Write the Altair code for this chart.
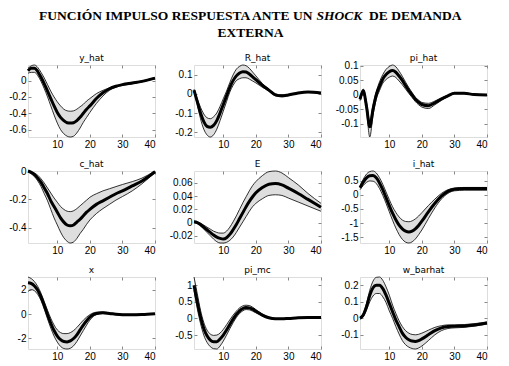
import altair as alt
import pandas as pd

# ---------------- data ----------------
T = [1, 2, 3, 4, 5, 6, 7, 8, 9, 10, 11, 12, 13, 14, 15, 16, 17, 18, 19, 20,
     22, 24, 26, 28, 30, 33, 36, 40]

NAMES = ["y_hat", "R_hat", "pi_hat", "c_hat", "E", "i_hat", "x", "pi_mc", "w_barhat"]

y_hat_mean = [0.12, 0.15, 0.15, 0.11, 0.04, -0.04, -0.13, -0.22, -0.31, -0.39, -0.45, -0.49, -0.515, -0.52,
              -0.515, -0.49, -0.45, -0.40, -0.35, -0.31, -0.22, -0.15, -0.10, -0.07, -0.05, -0.03, -0.01, 0.03]
y_hat_hi = [0.15, 0.18, 0.19, 0.16, 0.10, 0.03, -0.05, -0.13, -0.20, -0.26, -0.31, -0.35, -0.37, -0.375,
            -0.37, -0.35, -0.32, -0.29, -0.25, -0.22, -0.16, -0.12, -0.09, -0.065, -0.045, -0.025, -0.005, 0.035]
y_hat_lo = [0.09, 0.10, 0.10, 0.06, -0.01, -0.10, -0.20, -0.31, -0.42, -0.52, -0.60, -0.65, -0.68, -0.69,
            -0.68, -0.64, -0.58, -0.51, -0.45, -0.39, -0.28, -0.19, -0.12, -0.08, -0.06, -0.04, -0.015, 0.02]

R_hat_mean = [0.02, -0.04, -0.10, -0.145, -0.17, -0.175, -0.165, -0.14, -0.10, -0.055, -0.01, 0.035, 0.07, 0.095,
              0.11, 0.117, 0.115, 0.105, 0.09, 0.075, 0.045, 0.02, -0.005, -0.01, -0.005, 0.005, 0.01, 0.005]
R_hat_hi = [0.025, -0.025, -0.07, -0.105, -0.125, -0.13, -0.12, -0.10, -0.065, -0.025, 0.015, 0.06, 0.10, 0.13,
            0.145, 0.152, 0.148, 0.135, 0.115, 0.095, 0.055, 0.025, 0.0, -0.005, -0.002, 0.007, 0.012, 0.007]
R_hat_lo = [0.015, -0.055, -0.13, -0.185, -0.215, -0.226, -0.215, -0.185, -0.14, -0.09, -0.04, 0.01, 0.045, 0.07,
            0.08, 0.085, 0.085, 0.078, 0.068, 0.058, 0.035, 0.015, -0.01, -0.015, -0.008, 0.003, 0.008, 0.003]

pi_hat_mean = [-0.015, 0.014, -0.04, -0.11, -0.05, 0.0, 0.03, 0.055, 0.07, 0.08, 0.084, 0.078, 0.065, 0.05,
               0.032, 0.015, 0.0, -0.015, -0.025, -0.033, -0.037, -0.027, -0.014, -0.003, 0.006, 0.006, 0.001, 0.0]
pi_hat_hi = [-0.01, 0.02, -0.025, -0.09, -0.035, 0.012, 0.045, 0.07, 0.088, 0.098, 0.103, 0.097, 0.082, 0.064,
             0.044, 0.025, 0.008, -0.008, -0.018, -0.026, -0.029, -0.021, -0.01, -0.001, 0.008, 0.008, 0.002, 0.001]
pi_hat_lo = [-0.02, 0.008, -0.055, -0.145, -0.07, -0.015, 0.015, 0.04, 0.053, 0.061, 0.065, 0.06, 0.048, 0.035,
             0.02, 0.005, -0.009, -0.023, -0.034, -0.042, -0.047, -0.034, -0.019, -0.006, 0.004, 0.004, 0.0, -0.001]

c_hat_mean = [0.0, -0.01, -0.025, -0.05, -0.08, -0.12, -0.16, -0.21, -0.25, -0.29, -0.33, -0.36, -0.38, -0.386,
              -0.38, -0.36, -0.34, -0.315, -0.29, -0.27, -0.235, -0.21, -0.185, -0.16, -0.14, -0.105, -0.07, -0.005]
c_hat_hi = [0.0, -0.005, -0.015, -0.03, -0.055, -0.085, -0.12, -0.155, -0.19, -0.22, -0.25, -0.27, -0.283, -0.286,
            -0.28, -0.265, -0.245, -0.225, -0.205, -0.185, -0.16, -0.14, -0.125, -0.11, -0.095, -0.075, -0.05, 0.0]
c_hat_lo = [0.0, -0.02, -0.04, -0.07, -0.11, -0.16, -0.21, -0.27, -0.33, -0.38, -0.43, -0.47, -0.495, -0.507,
            -0.5, -0.475, -0.44, -0.41, -0.375, -0.345, -0.3, -0.265, -0.235, -0.205, -0.18, -0.14, -0.09, -0.01]

E_mean = [0.001, 0.0, -0.003, -0.007, -0.011, -0.015, -0.019, -0.022, -0.024, -0.025, -0.023, -0.018, -0.011, -0.003,
          0.006, 0.015, 0.024, 0.032, 0.039, 0.045, 0.053, 0.058, 0.059, 0.057, 0.052, 0.044, 0.035, 0.023]
E_hi = [0.002, 0.001, -0.001, -0.004, -0.007, -0.01, -0.013, -0.015, -0.016, -0.016, -0.013, -0.007, 0.001, 0.01,
        0.02, 0.03, 0.039, 0.048, 0.056, 0.062, 0.071, 0.077, 0.078, 0.075, 0.068, 0.057, 0.044, 0.029]
E_lo = [0.0, -0.001, -0.005, -0.01, -0.015, -0.02, -0.025, -0.029, -0.031, -0.031, -0.03, -0.027, -0.022, -0.015,
        -0.007, 0.001, 0.009, 0.017, 0.024, 0.029, 0.036, 0.041, 0.042, 0.041, 0.037, 0.031, 0.025, 0.017]

i_hat_mean = [0.25, 0.45, 0.6, 0.67, 0.68, 0.6, 0.42, 0.18, -0.1, -0.38, -0.65, -0.88, -1.07, -1.2,
              -1.28, -1.31, -1.28, -1.2, -1.08, -0.93, -0.6, -0.3, -0.05, 0.12, 0.2, 0.22, 0.22, 0.22]
i_hat_hi = [0.3, 0.55, 0.73, 0.82, 0.84, 0.77, 0.6, 0.37, 0.1, -0.17, -0.42, -0.62, -0.78, -0.89,
            -0.94, -0.95, -0.92, -0.85, -0.75, -0.63, -0.38, -0.15, 0.05, 0.18, 0.24, 0.26, 0.26, 0.26]
i_hat_lo = [0.18, 0.33, 0.44, 0.49, 0.48, 0.4, 0.22, -0.02, -0.3, -0.6, -0.9, -1.17, -1.4, -1.57,
            -1.67, -1.70, -1.66, -1.56, -1.41, -1.24, -0.84, -0.46, -0.15, 0.05, 0.14, 0.16, 0.16, 0.16]

x_mean = [2.55, 2.5, 2.3, 1.95, 1.4, 0.7, -0.05, -0.75, -1.35, -1.8, -2.1, -2.25, -2.28, -2.2,
          -2.0, -1.7, -1.3, -0.9, -0.55, -0.25, 0.05, 0.1, 0.05, -0.02, -0.05, -0.05, -0.03, 0.03]
x_hi = [3.03, 2.9, 2.65, 2.25, 1.7, 1.0, 0.3, -0.35, -0.9, -1.3, -1.52, -1.6, -1.6, -1.52,
        -1.35, -1.1, -0.8, -0.5, -0.25, -0.05, 0.15, 0.17, 0.1, 0.02, -0.02, -0.03, -0.01, 0.05]
x_lo = [1.85, 2.0, 1.9, 1.6, 1.1, 0.4, -0.4, -1.15, -1.8, -2.3, -2.65, -2.82, -2.86, -2.8,
        -2.6, -2.25, -1.8, -1.35, -0.9, -0.5, -0.05, 0.04, 0.0, -0.06, -0.08, -0.08, -0.05, 0.01]

pi_mc_mean = [1.0, 0.5, 0.05, -0.3, -0.52, -0.65, -0.7, -0.7, -0.62, -0.5, -0.35, -0.18, -0.02, 0.12,
              0.23, 0.3, 0.33, 0.32, 0.28, 0.22, 0.1, 0.02, -0.01, -0.01, 0.0, 0.02, 0.03, 0.03]
pi_mc_hi = [1.25, 0.75, 0.25, -0.12, -0.35, -0.47, -0.51, -0.5, -0.44, -0.33, -0.19, -0.04, 0.1, 0.22,
            0.32, 0.38, 0.4, 0.39, 0.34, 0.27, 0.13, 0.04, 0.0, 0.0, 0.01, 0.03, 0.04, 0.04]
pi_mc_lo = [0.85, 0.3, -0.15, -0.5, -0.72, -0.85, -0.91, -0.92, -0.83, -0.68, -0.5, -0.31, -0.13, 0.03,
            0.15, 0.23, 0.27, 0.26, 0.22, 0.17, 0.07, 0.0, -0.02, -0.02, -0.01, 0.01, 0.02, 0.02]

w_barhat_mean = [0.0, 0.02, 0.07, 0.14, 0.185, 0.2, 0.2, 0.18, 0.14, 0.09, 0.04, -0.01, -0.05, -0.09,
                 -0.115, -0.13, -0.138, -0.14, -0.135, -0.125, -0.1, -0.075, -0.058, -0.05, -0.048, -0.046, -0.04, -0.028]
w_barhat_hi = [0.005, 0.03, 0.09, 0.17, 0.225, 0.248, 0.25, 0.23, 0.19, 0.14, 0.08, 0.03, -0.015, -0.05,
               -0.075, -0.09, -0.098, -0.1, -0.097, -0.09, -0.072, -0.055, -0.045, -0.04, -0.04, -0.038, -0.033, -0.022]
w_barhat_lo = [-0.005, 0.01, 0.05, 0.1, 0.135, 0.15, 0.15, 0.13, 0.095, 0.045, 0.0, -0.05, -0.095, -0.135,
               -0.16, -0.175, -0.183, -0.186, -0.18, -0.168, -0.135, -0.1, -0.075, -0.062, -0.058, -0.055, -0.048, -0.034]

Y_TICKS = {
    "y_hat": [-0.6, -0.4, -0.2, 0],
    "R_hat": [-0.2, -0.1, 0, 0.1],
    "pi_hat": [-0.1, -0.05, 0, 0.05, 0.1],
    "c_hat": [-0.4, -0.2, 0],
    "E": [-0.02, 0, 0.02, 0.04, 0.06],
    "i_hat": [-1.5, -1, -0.5, 0, 0.5],
    "x": [-2, 0, 2],
    "pi_mc": [-0.5, 0, 0.5, 1],
    "w_barhat": [-0.1, 0, 0.1, 0.2],
}
X_TICKS = [10, 20, 30, 40]

SERIES = {
    "y_hat": (y_hat_mean, y_hat_lo, y_hat_hi),
    "R_hat": (R_hat_mean, R_hat_lo, R_hat_hi),
    "pi_hat": (pi_hat_mean, pi_hat_lo, pi_hat_hi),
    "c_hat": (c_hat_mean, c_hat_lo, c_hat_hi),
    "E": (E_mean, E_lo, E_hi),
    "i_hat": (i_hat_mean, i_hat_lo, i_hat_hi),
    "x": (x_mean, x_lo, x_hi),
    "pi_mc": (pi_mc_mean, pi_mc_lo, pi_mc_hi),
    "w_barhat": (w_barhat_mean, w_barhat_lo, w_barhat_hi),
}

TITLE_LINE1_PARTS = ["FUNCIÓN IMPULSO RESPUESTA ANTE UN", "SHOCK", "DE DEMANDA"]
TITLE_LINE2 = ["EXTERNA"]

# ---------------- style ----------------
FILL = "#dedede"
LABEL_FONT = "DejaVu Sans"
SERIF = "Liberation Serif"
W, H = 127, 72


def panel(name, with_title=False):
    mean, lo, hi = SERIES[name]
    df = pd.DataFrame({"t": T, "mean": mean, "lo": lo, "hi": hi})
    xs = alt.Scale(domain=[1, 40], nice=False, zero=False)
    ys = alt.Scale(nice=False, zero=False)
    lab = "'' + datum.value"
    ax_x = alt.Axis(values=X_TICKS, tickSize=3, offset=-3, domain=False, grid=False,
                    labelPadding=2, title=None, labelExpr=lab)
    ax_y = alt.Axis(values=Y_TICKS[name], tickSize=3, offset=-3, domain=False, grid=False,
                    labelPadding=2, title=None, labelExpr=lab)
    ax_x2 = alt.Axis(values=X_TICKS, orient="top", tickSize=3, offset=-3, domain=False,
                     grid=False, labels=False, title=None)
    ax_y2 = alt.Axis(values=Y_TICKS[name], orient="right", tickSize=3, offset=-3, domain=False,
                     grid=False, labels=False, title=None)
    base = alt.Chart(df)
    area = base.mark_area(color=FILL, opacity=1, interpolate="monotone").encode(
        x=alt.X("t:Q", scale=xs, axis=ax_x),
        y=alt.Y("lo:Q", scale=ys, axis=ax_y),
        y2="hi:Q",
    )
    lo_line = base.mark_line(color="black", strokeWidth=0.8, interpolate="monotone").encode(
        x=alt.X("t:Q", axis=None), y=alt.Y("lo:Q", axis=None))
    hi_line = base.mark_line(color="black", strokeWidth=0.8, interpolate="monotone").encode(
        x=alt.X("t:Q", axis=None), y=alt.Y("hi:Q", axis=None))
    mean_line = base.mark_line(color="black", strokeWidth=3, interpolate="monotone").encode(
        x=alt.X("t:Q", axis=ax_x2), y=alt.Y("mean:Q", axis=ax_y2))
    name_txt = alt.Chart(pd.DataFrame({"s": [name]})).mark_text(
        font=LABEL_FONT, fontSize=9, color="black", align="center", baseline="alphabetic"
    ).encode(text="s:N", x=alt.value(W / 2), y=alt.value(-4.5))
    layers = [area, lo_line, hi_line, mean_line, name_txt]
    if with_title:
        tdf1 = pd.DataFrame({"s": [TITLE_LINE1_PARTS[0]]})
        tdf2 = pd.DataFrame({"s": [TITLE_LINE1_PARTS[1]]})
        tdf3 = pd.DataFrame({"s": [TITLE_LINE1_PARTS[2]]})
        tdf4 = pd.DataFrame({"s": TITLE_LINE2})
        common = dict(font=SERIF, fontSize=13.5, fontWeight="bold", color="black",
                      baseline="alphabetic")
        layers += [
            alt.Chart(tdf1).mark_text(align="right", **common).encode(
                text="s:N", x=alt.value(118.5), y=alt.value(-45.5)),
            alt.Chart(tdf2).mark_text(align="left", fontStyle="italic", **common).encode(
                text="s:N", x=alt.value(122.5), y=alt.value(-45.5)),
            alt.Chart(tdf3).mark_text(align="left", **common).encode(
                text="s:N", x=alt.value(175), y=alt.value(-45.5)),
            alt.Chart(tdf4).mark_text(align="center", **common).encode(
                text="s:N", x=alt.value(56.5), y=alt.value(-28.5)),
        ]
    return alt.layer(*layers).resolve_axis(x="independent", y="independent").properties(
        width=W, height=H)


panels = [panel(n, with_title=(n == "R_hat")) for n in NAMES]

chart = alt.concat(*panels, columns=3, bounds="flush",
                   spacing={"row": 34, "column": 39}).properties(
    padding={"left": 0, "top": 0, "right": 0, "bottom": 0},
).configure_view(stroke="black", strokeWidth=1).configure_axis(
    labelFont=LABEL_FONT, labelFontSize=7, labelColor="black", tickColor="black",
    tickWidth=0.8,
).configure(background="white")

chart.save("out.html", embed_options={"renderer": "svg", "actions": False})
